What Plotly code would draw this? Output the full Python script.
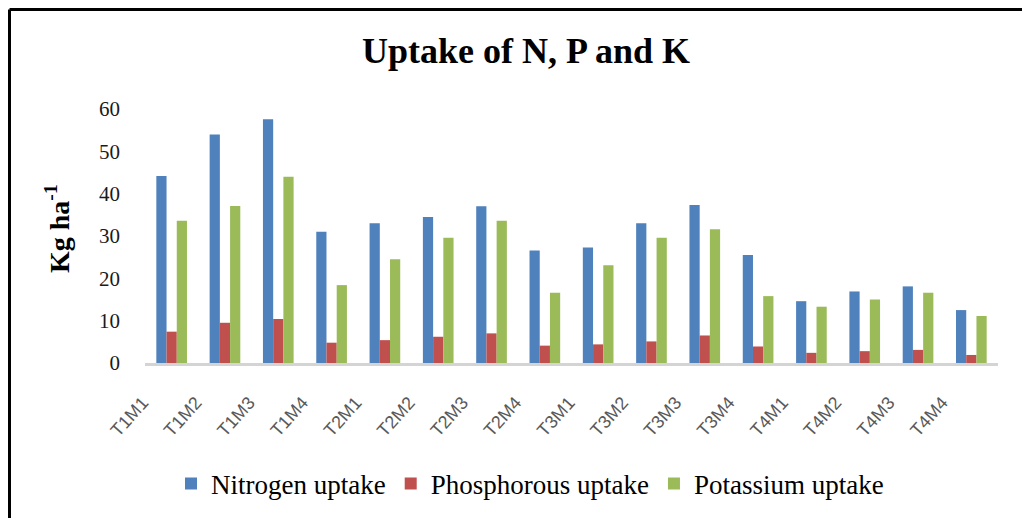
import plotly.graph_objects as go

categories = ["T1M1", "T1M2", "T1M3", "T1M4", "T2M1", "T2M2", "T2M3", "T2M4",
              "T3M1", "T3M2", "T3M3", "T3M4", "T4M1", "T4M2", "T4M3", "T4M4"]
nitrogen = [44.2, 54.0, 57.6, 31.0, 33.0, 34.5, 37.0, 26.6,
            27.3, 33.0, 37.3, 25.5, 14.6, 16.9, 18.1, 12.5]
phosphorous = [7.4, 9.5, 10.4, 4.8, 5.4, 6.2, 7.0, 4.1,
               4.4, 5.1, 6.5, 3.9, 2.4, 2.8, 3.1, 1.9]
potassium = [33.6, 37.1, 44.0, 18.4, 24.5, 29.6, 33.6, 16.6,
             23.1, 29.6, 31.6, 15.8, 13.3, 15.0, 16.6, 11.1]
series_names = ["Nitrogen uptake", "Phosphorous uptake", "Potassium uptake"]
y_ticks = [0, 10, 20, 30, 40, 50, 60]

# the page body adds an 8px offset; target positions below are in screen pixels
OFF = 8
W, H = 1030, 518
L, T = 145 - OFF, 109 - OFF
R = W - (998 - OFF)
B = H - (363 - OFF)
PW, PH = W - L - R, H - T - B


def px(x):
    return (x - OFF - L) / PW


def py(y):
    return (H - B - (y - OFF)) / PH


fig = go.Figure()
for name, vals, col in zip(series_names, [nitrogen, phosphorous, potassium],
                           ["#4F81BD", "#C0504D", "#9BBB59"]):
    fig.add_trace(go.Bar(x=categories, y=vals, name=name,
                         marker=dict(color=col, line=dict(width=0))))

serif = "Liberation Serif, Times New Roman, serif"
fig.update_layout(
    width=W, height=H,
    margin=dict(l=L, r=R, t=T, b=B, autoexpand=False),
    paper_bgcolor="white", plot_bgcolor="white",
    barmode="group", bargap=0.425, bargroupgap=0,
    title=dict(text="<b>Uptake of N, P and K</b>", x=(526 - OFF) / W, xanchor="center",
               y=1 - (50 - OFF) / H, yanchor="middle", xref="container", yref="container",
               font=dict(family=serif, size=36, color="black")),
    showlegend=True,
    legend=dict(orientation="h", x=px(530), xanchor="center", y=py(484), yanchor="middle",
                font=dict(family=serif, size=27, color="black"),
                itemwidth=30, traceorder="normal"),
    xaxis=dict(type="category", range=[-0.5, 15.5], showline=True, linecolor="#d4d4d4",
               linewidth=3, ticks="", tickangle=-48, showgrid=False, automargin=False,
               tickfont=dict(family="Liberation Sans, Arial, sans-serif", size=18, color="#595959"),
               ticklabelshift=-29, ticklabelstandoff=19),
    yaxis=dict(range=[0, 60], tickvals=y_ticks, showgrid=False, zeroline=False,
               showline=False, ticks="", automargin=False,
               tickfont=dict(family=serif, size=21, color="#1a1a1a"),
               ticklabelstandoff=24),
    annotations=[dict(text="<b>Kg ha<sup>-1</sup></b>", textangle=-90, xref="paper", yref="paper",
                      x=px(57), y=py(229), xanchor="center", yanchor="middle", showarrow=False,
                      font=dict(family=serif, size=28, color="black"))],
    shapes=[
        dict(type="line", xref="paper", yref="paper", x0=px(9.5), x1=px(1045), y0=py(9.5), y1=py(9.5),
             line=dict(color="black", width=3)),
        dict(type="line", xref="paper", yref="paper", x0=px(9.5), x1=px(9.5), y0=py(9.5), y1=py(540),
             line=dict(color="black", width=3)),
    ],
)

fig.write_html("out.html")
